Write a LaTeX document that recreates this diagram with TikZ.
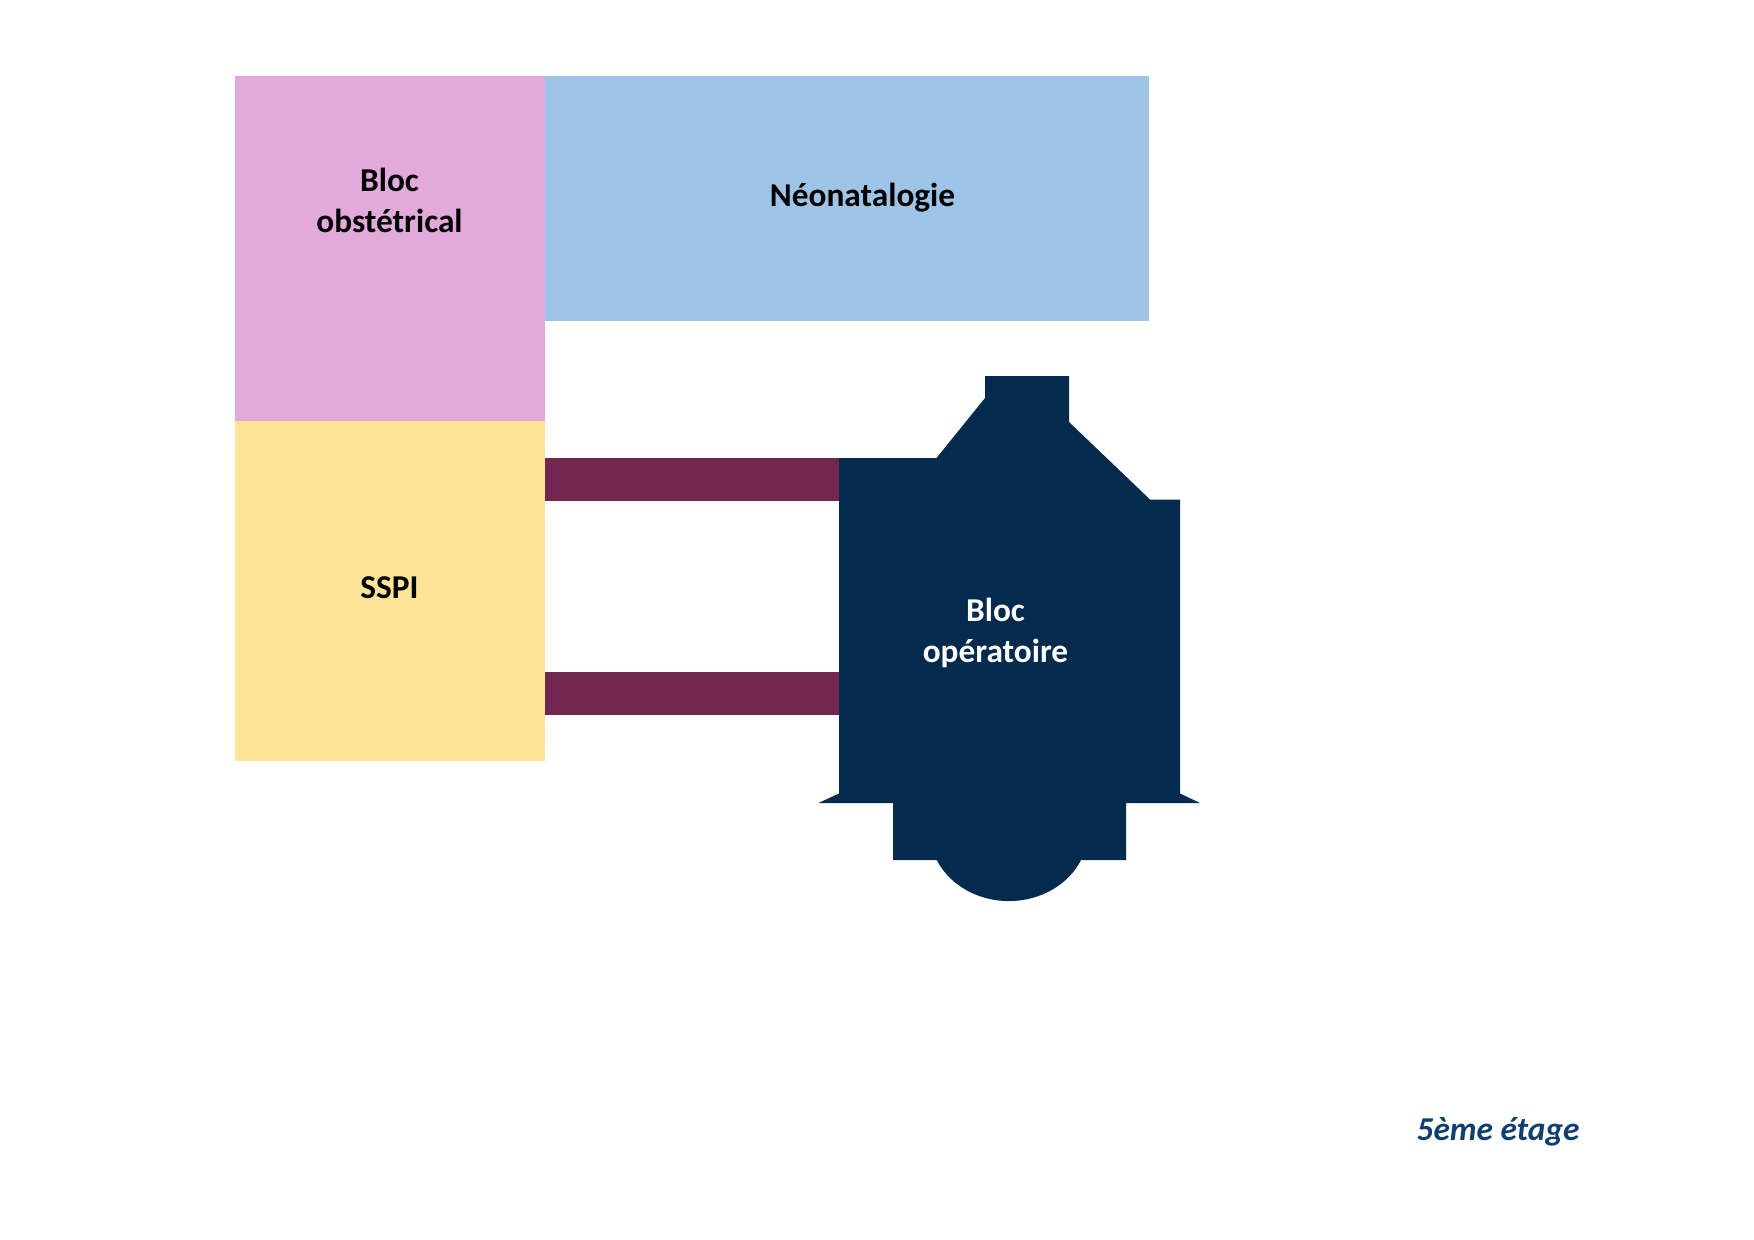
\documentclass[tikz,border=0pt]{standalone}
\usepackage{fontspec}
\setmainfont{Carlito}
\usetikzlibrary{positioning}
\definecolor{blocpink}{HTML}{E2AADA}
\definecolor{neoblue}{HTML}{9DC3E6}
\definecolor{sspiyellow}{HTML}{FFE497}
\definecolor{couloir}{HTML}{72274E}
\definecolor{opnavy}{HTML}{042A4E}
\definecolor{etageblue}{HTML}{0F3F70}

\begin{document}
\begin{tikzpicture}[x=0.48pt, y=-0.48pt, font=\fontsize{16}{19.5}\selectfont\bfseries]
        \tikzstyle{room}=[align=center,text=black,inner sep=0pt]
        \useasboundingbox (0,0) rectangle (1754,1240);
        \fill[blocpink]   (235,76)  rectangle (545,421);
        \fill[neoblue]    (545,76)  rectangle (1149,321);
        \fill[sspiyellow] (235,421) rectangle (545,761);
        \fill[couloir]    (545,458) rectangle (840,500.5);
        \fill[couloir]    (545,672) rectangle (840,714.5);
        \fill[opnavy] (839,458) -- (936.5,458) -- (985,398) -- (985,376) -- (1069,376)
        -- (1069,422) -- (1150,499.5) -- (1180,499.5) -- (1180,793.5) -- (1200,803)
        -- (1126,803) -- (1126,860) -- (1081,860)
        arc[start angle=-24.1, end angle=-155.9, x radius=79, y radius=-69.4]
        -- (893,860) -- (893,803) -- (818.5,803) -- (839,793.5) -- cycle;
        \node[room]              (obst)  at (389.5,200.5)  {Bloc\\obstétrical};
        \node[room]              (neo)   at (862.5,197.5)  {Néonatalogie};
        \node[room]              (sspi)  at (389.5,588)  {SSPI};
        \node[room,text=white]   (bloc)  at (995.5,633) {Bloc\\opératoire};
        \node[room,text=etageblue,font=\fontsize{16}{19.5}\selectfont\bfseries\itshape]
        (etage) at (1498,1131.5) {5ème étage};
      \end{tikzpicture}
\end{document}
